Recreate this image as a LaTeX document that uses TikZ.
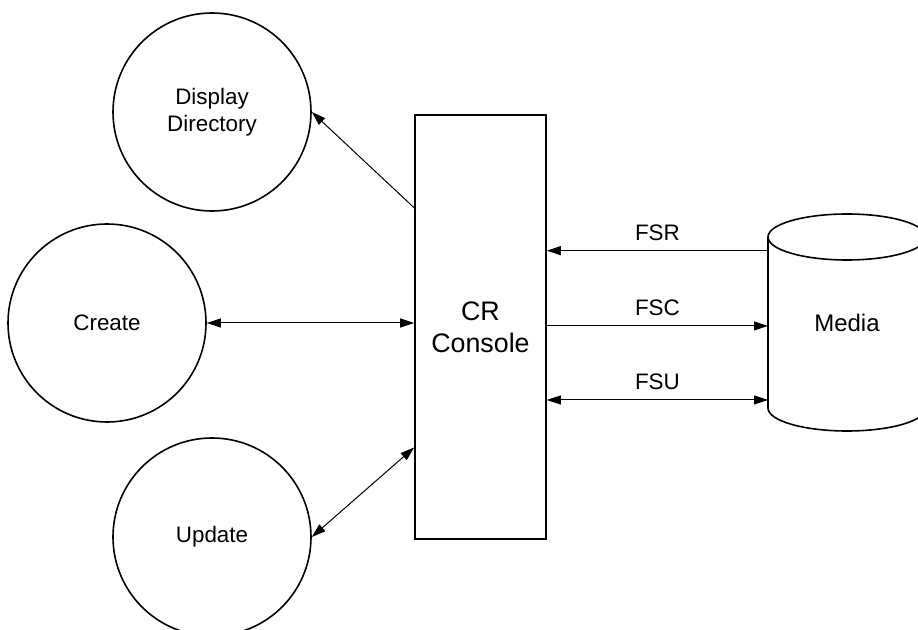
\documentclass[tikz,border=0pt]{standalone}
\usepackage{fontspec}
\setmainfont{Liberation Sans}
\usetikzlibrary{arrows.meta,calc}

\begin{document}
\begin{tikzpicture}[x=0.5pt, y=-0.5pt,
    proc/.style={draw, circle, line width=0.8pt, minimum size=99pt, inner sep=0pt, align=center, font=\fontsize{11.2}{13.5}\selectfont},
    flow/.style={line width=0.5pt, -{Triangle[length=7pt,width=4.5pt]}},
    both/.style={line width=0.5pt, {Triangle[length=7pt,width=4.5pt]}-{Triangle[length=7pt,width=4.5pt]}},
    lbl/.style={above=1.5pt, font=\fontsize{11.2}{13.5}\selectfont}]
    \clip (0, 0) rectangle (918, 630);

    % Processes
    \node[proc] (disp) at (212, 112) {Display\\Directory};
    \node[proc] (create) at (107, 323) {Create};
    \node[proc] (upd) at (212, 537) {Update};

    % Console
    \node[draw, line width=0.8pt, minimum width=65.5pt, minimum height=212pt, align=center, font=\fontsize{13.4}{16}\selectfont] (cons) at (480.5, 327) {CR\\Console};

    % Media (cylinder)
    \node[outer sep=0pt, minimum width=79pt, minimum height=85.5pt, font=\fontsize{12}{14}\selectfont] (media) at (847, 322.5) {Media};
    \draw[line width=0.8pt] (media.north west) -- (media.south west) arc[start angle=180, end angle=360, x radius=39.5pt, y radius=11.5pt] -- (media.north east);
    \draw[line width=0.8pt] (media.north) ellipse[x radius=39.5pt, y radius=11.5pt];

    % Console <-> processes
    \draw[flow] ($(cons.north west)!0.22!(cons.south west)$) -- (disp.east);
    \draw[both] (create.east) -- (create.east -| cons.west);
    \draw[both] (upd.east) -- ($(cons.north west)!0.783!(cons.south west)$);

    % Console <-> media
    \coordinate (fsr) at ($(media.north west)!0.08!(media.south west)$);
    \coordinate (fsc) at ($(media.north west)!0.52!(media.south west)$);
    \coordinate (fsu) at ($(media.north west)!0.953!(media.south west)$);
    \draw[flow] (fsr) -- (fsr -| cons.east) node[lbl, midway] {FSR};
    \draw[flow] (fsc -| cons.east) -- (fsc) node[lbl, midway] {FSC};
    \draw[both] (fsu -| cons.east) -- (fsu) node[lbl, midway] {FSU};
\end{tikzpicture}
\end{document}
